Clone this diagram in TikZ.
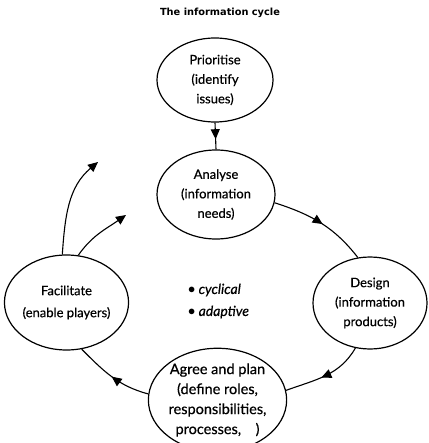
\documentclass[tikz,border=0pt]{standalone}
\usepackage{fontspec}
\setmainfont{Lato}[FakeBold=0.6]
\newfontfamily\bodyfont{Lato}[UprightFeatures={FakeBold=0.5}]
\newfontfamily\headfont{DejaVu Sans}
\usetikzlibrary{shapes.geometric,arrows.meta,decorations.markings}
\begin{document}
\begin{tikzpicture}[x=1pt,y=-1pt,
  bubble/.style={draw, ellipse, line width=1.2pt, inner sep=0pt, align=center, font=\bodyfont\fontsize{13}{19.5}\selectfont},
  conn/.style={line width=1.1pt},
  tip/.style={-{Triangle[length=10pt,width=9pt]}},
  midarrow/.style={postaction={decorate}, decoration={markings, mark=at position #1 with {\arrow{Triangle[length=10pt,width=9pt]}}}},
  heading/.style={font=\headfont\bfseries\fontsize{9.8}{11}\selectfont},
  note/.style={font=\rmfamily\itshape\fontsize{14}{22}\selectfont, align=left, inner sep=0pt}
]
\useasboundingbox (0,0) rectangle (428,443);
\node[heading] (t) at (220,13) {The information cycle};
\node[bubble, minimum width=116pt, minimum height=84pt] (P) at (215,80) {Prioritise\\(identify\\issues)};
\node[bubble, minimum width=118pt, minimum height=89pt] (A) at (216,194.5) {Analyse\\(information\\needs)};
\node[bubble, minimum width=114pt, minimum height=92pt] (D) at (370,303) {Design\\(information\\products)};
\node[bubble, minimum width=117pt, minimum height=95pt, font=\bodyfont\fontsize{13}{22}\selectfont] (F) at (66.5,302.5) {Facilitate\\(enable players)};
\node[bubble, minimum width=121pt, minimum height=84pt, font=\bodyfont\fontsize{14.5}{20}\selectfont] (G) at (217.5,400) {Agree and plan\\(define roles,\\responsibilities,\\processes,\quad)};
\node[note, anchor=west] (n) at (188,301) {$\bullet$ cyclical\\$\bullet$ adaptive};
\coordinate (u1) at (98,162);
\coordinate (u2) at (126,215);
\draw[conn, midarrow=0.62] (P.south) -- (A.north);
\draw[conn, midarrow=0.52] (A.-8) to[out=-18,in=128] (D.105);
\draw[conn, midarrow=0.55] (D.252) to[out=240,in=20] (G.8);
\draw[conn, midarrow=0.5] (G.175) to[out=165,in=-45] (F.-72);
\draw[conn, tip] (F.95) to[out=86,in=-140] (u1);
\draw[conn, tip] (F.76) to[out=55,in=-145] (u2);
\end{tikzpicture}
\end{document}
